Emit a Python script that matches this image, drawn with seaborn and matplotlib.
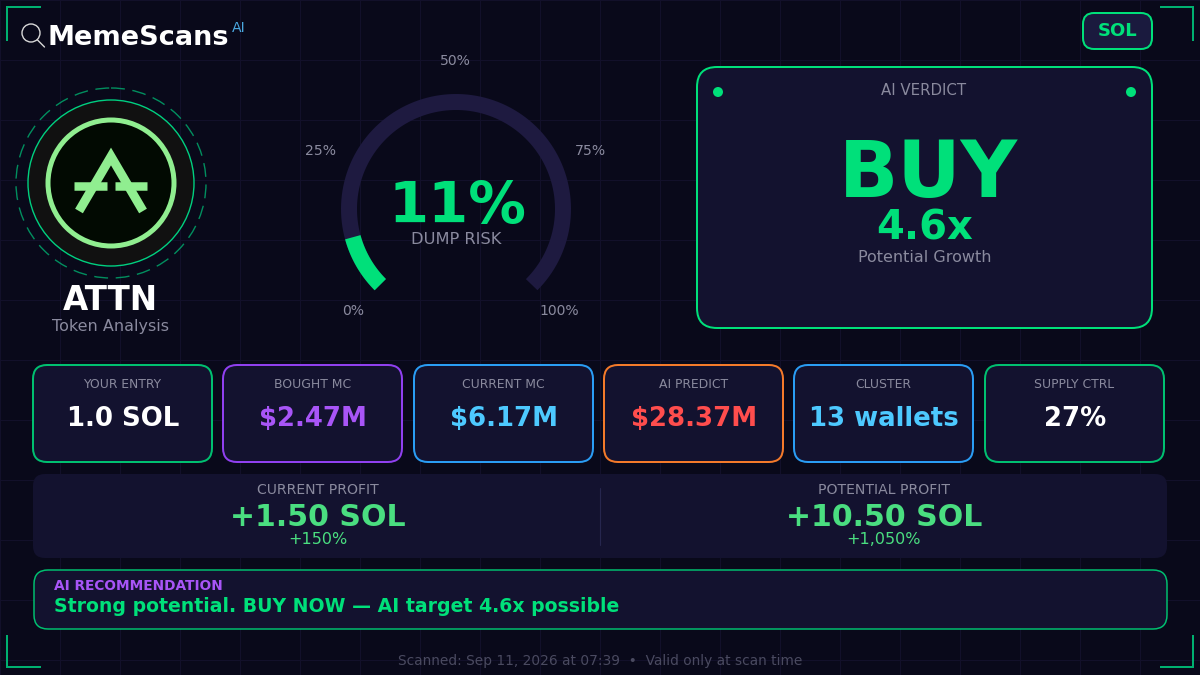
import numpy as np
import pandas as pd
import matplotlib
matplotlib.use("Agg")
import matplotlib.pyplot as plt
from matplotlib.patches import FancyBboxPatch, Circle
import seaborn as sns

# ---- data ----
dump_risk = 11
gauge_ticks = [0, 25, 50, 75, 100]
gauge_tick_labels = ["0%", "25%", "50%", "75%", "100%"]
card_labels = ["YOUR ENTRY", "BOUGHT MC", "CURRENT MC", "AI PREDICT", "CLUSTER", "SUPPLY CTRL"]
card_values = ["1.0 SOL", "$2.47M", "$6.17M", "$28.37M", "13 wallets", "27%"]
profit_labels = ["CURRENT PROFIT", "POTENTIAL PROFIT"]
profit_values = ["+1.50 SOL", "+10.50 SOL"]
profit_pcts = ["+150%", "+1,050%"]

# ---- style ----
BG = "#09091a"; GRID = "#13112b"; PANEL = "#13122f"; TRACK = "#1e1a40"
GREEN = "#00e07a"; GRAY = "#8a8a9e"; PROFIT = "#4ade80"
card_edges = ["#00c070", "#9040f0", "#2a9df4", "#f47a2a", "#2a9df4", "#00c070"]
card_colors = ["#ffffff", "#a855f7", "#4dc9ff", "#ff4d4d", "#4dc9ff", "#ffffff"]
card_x = [33, 223, 414, 604, 794, 985]
PX = 0.72

sns.set_theme(style="dark")
plt.rcParams["font.family"] = ["DejaVu Sans"]
fig = plt.figure(figsize=(12, 6.75), dpi=100, facecolor=BG)
ax = fig.add_axes([0, 0, 1, 1], facecolor=BG)
ax.set_xlim(0, 1200); ax.set_ylim(675, 0)
ax.axis("off")

for g in np.arange(0, 1200, 60):
    ax.axvline(g, color=GRID, lw=0.7, zorder=0)
for g in np.arange(0, 675, 60):
    ax.axhline(g, color=GRID, lw=0.7, zorder=0)


def T(x, y, s, px, color, bold=False, ha="center", **kw):
    return ax.text(x, y, s, fontsize=px * PX, color=color, ha=ha, va="center",
                   fontweight="bold" if bold else "normal", zorder=5, **kw)


def box(x0, y0, x1, y1, r, face, edge="none", lw=0.0, **kw):
    ax.add_patch(FancyBboxPatch((x0, y0), x1 - x0, y1 - y0,
                                boxstyle=f"round,pad=0,rounding_size={r}",
                                fc=face, ec=edge, lw=lw * PX, zorder=2, **kw))


def line(xs, ys, color, lw, **kw):
    df = pd.DataFrame({"x": xs, "y": ys, "o": np.arange(len(xs))})
    sns.lineplot(data=df, x="x", y="y", sort=False, estimator=None, color=color,
                 linewidth=lw * PX, ax=ax, legend=False, zorder=3, **kw)
    ax.set_xlim(0, 1200); ax.set_ylim(675, 0)


# corners
CC = "#00b070"
for xs, ys in [((7, 7, 41), (41, 7, 7)), ((1160, 1193, 1193), (7, 7, 41)),
               ((7, 7, 41), (635, 667, 667)), ((1160, 1193, 1193), (667, 667, 635))]:
    line(list(xs), list(ys), CC, 2, solid_joinstyle="miter", solid_capstyle="butt")

# header
ax.add_patch(Circle((31, 33), 9, fc="none", ec="#d8d8d8", lw=1.0, zorder=4))
line([37.5, 44.5], [40, 47], "#d8d8d8", 1.4)
T(47, 38, "MemeScans", 27.1, "#ffffff", bold=True, ha="left")
T(232, 28, "AI", 14, "#4aa8e0", ha="left")
box(1083, 13, 1152, 49, 11, "#1a1a3e", GREEN, 2)
T(1118, 31, "SOL", 18, GREEN, bold=True)

# token logo
cx, cy = 111, 183
ax.add_patch(Circle((cx, cy), 95, fc="none", ec="#00b070", lw=1.0, ls=(0, (10, 5.5)), alpha=0.8, zorder=3))
ax.add_patch(Circle((cx, cy), 83, fc="#111111", ec="#00d080", lw=1.0, zorder=3))
ax.add_patch(Circle((cx, cy), 63, fc="#020a02", ec="#90ee90", lw=3.6, zorder=3))
LOGO = "#90ee90"
line([79, 111, 143], [211, 156.5, 211], LOGO, 9, solid_joinstyle="miter", solid_capstyle="butt")
line([74, 107], [186, 186], LOGO, 8.5, solid_capstyle="butt")
line([115, 147], [186, 186], LOGO, 8.5, solid_capstyle="butt")
T(110, 301, "ATTN", 32.6, "#ffffff", bold=True)
T(110, 327, "Token Analysis", 16, GRAY)

# gauge
gx, gy, gr = 456, 209, 107


def gauge_xy(a, b):
    t = np.radians(225 - 2.7 * np.linspace(a, b, 120))
    return gx + gr * np.cos(t), gy - gr * np.sin(t)


xs, ys = gauge_xy(0, 100)
line(xs, ys, TRACK, 16, solid_capstyle="butt")
xs, ys = gauge_xy(0, dump_risk)
line(xs, ys, GREEN, 16, solid_capstyle="butt")
tick_pos = [(353, 311), (320, 151), (455, 61), (590, 151), (559, 311)]
for (tx, ty), lab in zip(tick_pos, gauge_tick_labels):
    T(tx, ty, lab, 14, GRAY)
T(457.5, 207, f"{dump_risk}%", 57.5, GREEN, bold=True)
T(456, 240, "DUMP RISK", 16.2, GRAY)

# verdict
box(697, 67, 1152, 328, 20, PANEL, GREEN, 2)
ax.add_patch(Circle((718, 92), 5, fc=GREEN, ec="none", zorder=4))
ax.add_patch(Circle((1131, 92), 5, fc=GREEN, ec="none", zorder=4))
T(924, 90.5, "AI VERDICT", 15, GRAY)
T(928.5, 174.5, "BUY", 78, GREEN, bold=True)
T(924.5, 229, "4.6x", 40, GREEN, bold=True)
T(925, 257, "Potential Growth", 16, GRAY)

# metric cards
for x0, lab, val, ec, col in zip(card_x, card_labels, card_values, card_edges, card_colors):
    box(x0, 365, x0 + 179, 462, 14, PANEL, ec, 2)
    T(x0 + 89.5, 384, lab, 12.4, GRAY)
    T(x0 + 90, 419, val, 26, col, bold=True)

# profit panel
box(33, 474, 1167, 558, 12, PANEL)
ax.plot([600, 600], [488, 545], color="#26264e", lw=0.8, zorder=3)
for x0, lab, val, pct in zip([317.5, 884], profit_labels, profit_values, profit_pcts):
    T(x0, 490, lab, 14, GRAY)
    T(x0, 517, val, 30, PROFIT, bold=True)
    T(x0, 539, pct, 16, PROFIT)

# recommendation
box(34, 570, 1167, 629, 14, PANEL, "#00c070", 1.5)
T(54, 586, "AI RECOMMENDATION", 13.7, "#a855f7", bold=True, ha="left")
T(54, 607, "Strong potential. BUY NOW — AI target 4.6x possible", 18.85, GREEN, bold=True, ha="left")

# footer
T(600, 661, "Scanned: Sep 11, 2026 at 07:39  •  Valid only at scan time", 13.7, "#4a4a60")

fig.savefig("out.png", dpi=100, facecolor=BG)
